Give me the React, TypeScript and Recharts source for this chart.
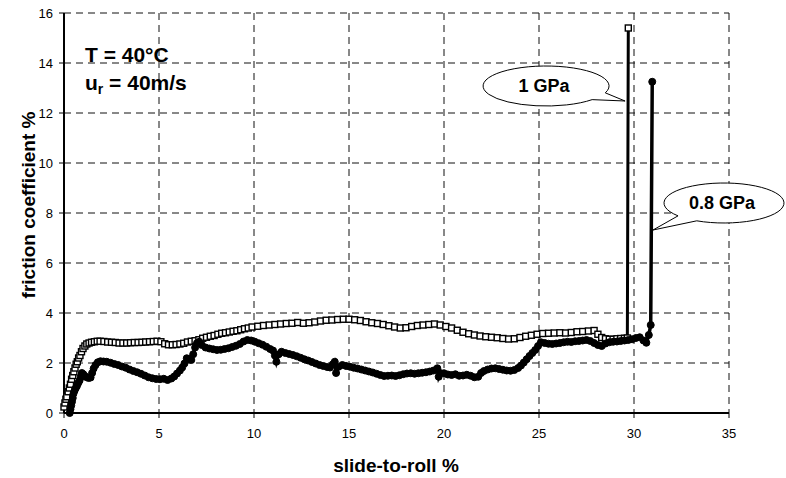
import React from "react";
import { LineChart, Line, XAxis, YAxis, CartesianGrid, ReferenceDot } from "recharts";

// 1 GPa run (open squares)
const slide1 = [
  0, 0.05, 0.1, 0.15, 0.22, 0.28, 0.34, 0.4, 0.46, 0.52, 0.58, 0.64, 0.7, 0.77, 0.84, 0.92, 1.0, 1.1, 1.2, 1.32,
  1.45, 1.6, 1.75, 1.9, 2.1, 2.3, 2.5, 2.7, 2.9, 3.1, 3.3, 3.5, 3.7, 3.9, 4.1, 4.3, 4.5, 4.7, 4.9, 5.1,
  5.3, 5.5, 5.7, 5.9, 6.1, 6.3, 6.5, 6.7, 6.9, 7.1, 7.3, 7.5, 7.7, 7.9, 8.1, 8.3, 8.5, 8.7, 8.9, 9.1,
  9.3, 9.5, 9.7, 9.9, 10.2, 10.5, 10.8, 11.1, 11.4, 11.7, 12.0, 12.3, 12.6, 12.9, 13.2, 13.5, 13.8, 14.1, 14.4, 14.7,
  15.0, 15.3, 15.6, 15.9, 16.2, 16.5, 16.8, 17.1, 17.4, 17.7, 18.0, 18.3, 18.6, 18.9, 19.2, 19.5, 19.8, 20.1, 20.4, 20.7,
  21.0, 21.3, 21.6, 21.9, 22.2, 22.5, 22.8, 23.1, 23.4, 23.7, 24.0, 24.3, 24.6, 24.9, 25.2, 25.5, 25.8, 26.1, 26.4, 26.7,
  27.0, 27.3, 27.6, 27.9, 28.1, 28.3, 28.5, 28.7, 28.9, 29.1, 29.3, 29.5, 29.65, 29.7,
];
const friction1 = [
  0.24, 0.4, 0.55, 0.65, 0.85, 1.0, 1.15, 1.35, 1.5, 1.65, 1.8, 1.95, 2.05, 2.2, 2.3, 2.45, 2.58, 2.68, 2.76, 2.8,
  2.83, 2.85, 2.87, 2.87, 2.86, 2.84, 2.83, 2.82, 2.8, 2.8, 2.8, 2.81, 2.82, 2.82, 2.83, 2.84, 2.85, 2.86, 2.87, 2.85,
  2.77, 2.73, 2.73, 2.74, 2.76, 2.79, 2.84, 2.87, 2.89, 2.93, 2.99, 3.03, 3.07, 3.1, 3.15, 3.19, 3.21, 3.24, 3.27, 3.29,
  3.33, 3.37, 3.4, 3.44, 3.47, 3.5, 3.52, 3.54, 3.56, 3.58, 3.59, 3.62, 3.59, 3.61, 3.64, 3.68, 3.71, 3.72, 3.74, 3.75,
  3.75, 3.73, 3.7, 3.65, 3.61, 3.58, 3.54, 3.49, 3.44, 3.4, 3.41, 3.46, 3.5, 3.52, 3.54, 3.56, 3.52, 3.46, 3.4, 3.31,
  3.23, 3.17, 3.12, 3.08, 3.05, 3.03, 3.01, 2.98, 2.96, 2.97, 3.02, 3.07, 3.11, 3.15, 3.18, 3.19, 3.2, 3.21, 3.2, 3.22,
  3.25, 3.26, 3.28, 3.3, 3.15, 3.02, 2.97, 2.95, 2.95, 2.97, 2.98, 2.99, 3.0, 15.4,
];

// 0.8 GPa run (filled circles)
const slide2 = [
  0.3, 0.34, 0.38, 0.42, 0.46, 0.5, 0.56, 0.62, 0.68, 0.75, 0.82, 0.88, 0.94, 1.02, 1.1, 1.2, 1.3, 1.4, 1.48, 1.56,
  1.66, 1.78, 1.92, 2.08, 2.25, 2.45, 2.65, 2.85, 3.05, 3.25, 3.45, 3.65, 3.85, 4.05, 4.25, 4.45, 4.65, 4.85, 5.05, 5.25,
  5.45, 5.65, 5.8, 5.95, 6.1, 6.22, 6.34, 6.46, 6.58, 6.7, 6.8, 6.9, 7.0, 7.12, 7.25, 7.45, 7.65, 7.85, 8.05, 8.25,
  8.45, 8.65, 8.85, 9.05, 9.25, 9.45, 9.65, 9.85, 10.05, 10.25, 10.45, 10.65, 10.85, 11.0, 11.1, 11.18, 11.3, 11.45, 11.65, 11.85,
  12.05, 12.25, 12.45, 12.65, 12.85, 13.05, 13.25, 13.45, 13.65, 13.85, 14.0, 14.15, 14.25, 14.32, 14.45, 14.65, 14.85, 15.05, 15.25, 15.45,
  15.65, 15.85, 16.05, 16.25, 16.45, 16.65, 16.85, 17.05, 17.25, 17.45, 17.65, 17.85, 18.05, 18.25, 18.45, 18.65, 18.85, 19.05, 19.25, 19.45,
  19.65, 19.72, 19.8, 20.0, 20.2, 20.4, 20.6, 20.8, 21.0, 21.2, 21.4, 21.6, 21.8, 21.95, 22.1, 22.3, 22.5, 22.7, 22.9, 23.1,
  23.3, 23.5, 23.7, 23.9, 24.05, 24.2, 24.35, 24.5, 24.65, 24.8, 24.95, 25.1, 25.3, 25.5, 25.7, 25.9, 26.1, 26.3, 26.5, 26.7,
  26.9, 27.1, 27.3, 27.5, 27.7, 27.9, 28.1, 28.3, 28.5, 28.7, 28.9, 29.1, 29.3, 29.5, 29.7, 29.9, 30.1, 30.3, 30.5, 30.65,
  30.78, 30.88, 30.96,
];
const friction2 = [
  0, 0.15, 0.3, 0.45, 0.6, 0.78, 0.9, 1.0, 1.08, 1.2, 1.3, 1.45, 1.6, 1.55, 1.47, 1.43, 1.4, 1.42, 1.6, 1.78,
  1.92, 2.03, 2.07, 2.06, 2.05, 2.01, 1.96, 1.92, 1.86, 1.81, 1.74, 1.68, 1.63, 1.57, 1.5, 1.43, 1.39, 1.36, 1.35, 1.37,
  1.32, 1.38, 1.46, 1.58, 1.7, 1.82, 1.98, 2.19, 2.16, 2.12, 2.35, 2.62, 2.8, 2.85, 2.72, 2.62, 2.58, 2.55, 2.52, 2.53,
  2.56, 2.59, 2.64, 2.69, 2.76, 2.86, 2.92, 2.9, 2.85, 2.79, 2.73, 2.65, 2.56, 2.5, 2.3, 2.05, 2.35, 2.45, 2.4, 2.36,
  2.32, 2.27, 2.21, 2.15, 2.1, 2.04, 1.98, 1.92, 1.88, 1.84, 1.82, 1.95, 2.05, 1.6, 1.85, 1.92, 1.88, 1.85, 1.81, 1.78,
  1.74, 1.7, 1.66, 1.62, 1.57, 1.52, 1.48, 1.49, 1.5, 1.48, 1.51, 1.55, 1.58, 1.59, 1.57, 1.59, 1.61, 1.63, 1.66, 1.7,
  1.79, 1.45, 1.6, 1.59, 1.54, 1.52, 1.55, 1.49, 1.5, 1.53, 1.49, 1.43, 1.45, 1.6, 1.68, 1.74, 1.78, 1.79, 1.76, 1.73,
  1.7, 1.69, 1.72, 1.8, 1.9, 2.02, 2.15, 2.28, 2.4, 2.52, 2.68, 2.83, 2.8, 2.77, 2.76, 2.78, 2.8, 2.83, 2.85, 2.84,
  2.87, 2.88, 2.9, 2.92, 2.88, 2.8, 2.72, 2.68, 2.78, 2.83, 2.85, 2.86, 2.88, 2.9, 2.92, 2.95, 3.0, 3.03, 2.9, 2.81,
  3.12, 3.52, 13.25,
];

const xTicks = [0, 5, 10, 15, 20, 25, 30, 35];
const yTicks = [0, 2, 4, 6, 8, 10, 12, 14, 16];

const series1 = slide1.map((x, i) => ({ x, y: friction1[i] }));
const series2 = slide2.map((x, i) => ({ x, y: friction2[i] }));

const FONT = "'Liberation Sans', Arial, Helvetica, sans-serif";

const SquareDot = (props: any) => {
  const { cx, cy, index } = props;
  if (cx == null || cy == null) return <g key={index} />;
  return (
    <rect key={index} x={cx - 3} y={cy - 3} width={6} height={6} fill="#fff" stroke="#000" strokeWidth={1.4} />
  );
};

// speech balloon: tip at (cx, cy), ellipse centre offset by (dx, dy)
const Balloon = (props: any) => {
  const { cx, cy, dx, dy, rx, ry, a1, a2, label } = props;
  const ex = cx + dx;
  const ey = cy + dy;
  const r1 = (a1 * Math.PI) / 180;
  const r2 = (a2 * Math.PI) / 180;
  const ax = ex + rx * Math.cos(r1);
  const ay = ey + ry * Math.sin(r1);
  const bx = ex + rx * Math.cos(r2);
  const by = ey + ry * Math.sin(r2);
  const d = `M ${cx} ${cy} L ${ax} ${ay} A ${rx} ${ry} 0 1 1 ${bx} ${by} Z`;
  return (
    <g>
      <path d={d} fill="#fff" stroke="#000" strokeWidth={1} />
      <text
        x={ex - 2}
        y={ey}
        textAnchor="middle"
        dominantBaseline="central"
        fontFamily={FONT}
        fontWeight="bold"
        fontSize={18}
        fill="#000"
      >
        {label}
      </text>
    </g>
  );
};

export default function App() {
  return (
    <div style={{ position: "absolute", left: 0, top: 0, width: 786, height: 478, background: "#fff" }}>
      <LineChart
        width={786}
        height={478}
        margin={{ top: 13, right: 57, bottom: 0, left: 0 }}
        style={{ fontFamily: FONT }}
      >
        <CartesianGrid stroke="#111" strokeDasharray="7 5" />
        <XAxis
          type="number"
          dataKey="x"
          domain={[0, 35]}
          ticks={xTicks}
          height={65}
          axisLine={{ stroke: "#000", strokeWidth: 2 }}
          tickLine={{ stroke: "#000" }}
          tickSize={5}
          tickMargin={11}
          tick={{ fill: "#000", fontSize: 13 }}
        />
        <YAxis
          type="number"
          domain={[0, 16]}
          ticks={yTicks}
          width={64}
          axisLine={{ stroke: "#000", strokeWidth: 2 }}
          tickLine={{ stroke: "#000" }}
          tickSize={5}
          tickMargin={6}
          tick={{ fill: "#000", fontSize: 13 }}
        />
        <Line
          data={series1}
          dataKey="y"
          type="linear"
          stroke="#000"
          strokeWidth={3}
          dot={SquareDot}
          activeDot={false}
          isAnimationActive={false}
        />
        <Line
          data={series2}
          dataKey="y"
          type="linear"
          stroke="#000"
          strokeWidth={3.5}
          dot={{ r: 3.5, fill: "#000", stroke: "#000", strokeWidth: 1 }}
          activeDot={false}
          isAnimationActive={false}
        />
        <ReferenceDot
          x={29.53}
          y={12.48}
          r={0}
          ifOverflow="visible"
          shape={(p: any) => (
            <Balloon cx={p.cx} cy={p.cy} dx={-79} dy={-15} rx={63} ry={20} a1={43} a2={20} label="1 GPa" />
          )}
        />
        <ReferenceDot
          x={31.0}
          y={7.32}
          r={0}
          ifOverflow="visible"
          shape={(p: any) => (
            <Balloon cx={p.cx} cy={p.cy} dx={71} dy={-27} rx={60} ry={20} a1={140} a2={117} label="0.8 GPa" />
          )}
        />
      </LineChart>
      <svg
        width={786}
        height={478}
        style={{ position: "absolute", left: 0, top: 0, pointerEvents: "none" }}
        fontFamily={FONT}
        fontWeight="bold"
        fill="#000"
      >
        <text x={85} y={62} fontSize={21}>
          T = 40°C
        </text>
        <text x={85} y={90} fontSize={21}>
          <tspan>u</tspan>
          <tspan fontSize={14} dy={4}>r</tspan>
          <tspan dy={-4}> = 40m/s</tspan>
        </text>
        <text x={35} y={205} fontSize={19} textAnchor="middle" transform="rotate(-90 35 205)">
          friction coefficient  %
        </text>
        <text x={396} y={472} fontSize={19} textAnchor="middle">
          slide-to-roll  %
        </text>
      </svg>
    </div>
  );
}
